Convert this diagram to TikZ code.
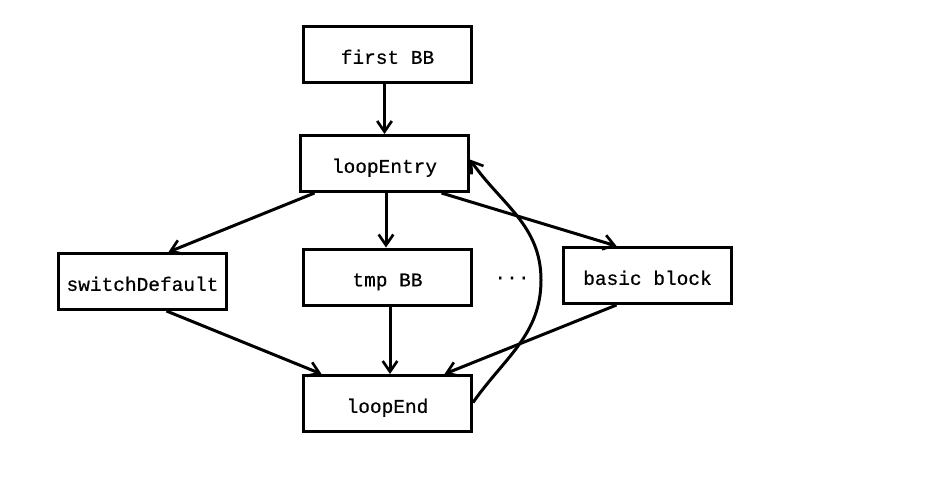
\documentclass[tikz,border=0pt]{standalone}
\usepackage{fontspec}
\newfontfamily\boxfont[FakeBold=0.6]{Liberation Mono}
\usetikzlibrary{arrows.meta,calc}
\tikzset{
  blk/.style={draw=black, line width=2.25pt, rectangle, minimum width=126pt, minimum height=42pt, inner sep=0pt, text height=14pt, text depth=0pt, font=\boxfont\fontsize{14.6pt}{17pt}\selectfont},
  conn/.style={line width=2.25pt, -{Straight Barb[length=8pt,width=11pt,line width=2pt]}},
  lbl/.style={inner sep=0pt, font=\boxfont\fontsize{14.6pt}{17pt}\selectfont}
}
\begin{document}
\begin{tikzpicture}[x=0.75pt,y=-0.75pt]
\useasboundingbox (0,0) rectangle (945,494);
\node[blk] (fb) at (387.5,54.5) {first BB};
\node[blk] (le) at (384.5,163.5) {loopEntry};
\node[blk] (sd) at (142.5,281.5) {switchDefault};
\node[blk] (tmp) at (387.5,277) {tmp BB};
\node[blk] (bb) at (647.5,275.5) {basic block};
\node[blk] (lend) at (387.5,403.5) {loopEnd\hspace{13.5pt}};
\node[lbl] (dots) at (512,280) {···};
\coordinate (bend) at (541,280);
\draw[conn] (fb.south -| le.north) -- (le.north);
\draw[conn] ($(le.south west)+(15.5,0)$) -- ($(sd.north west)+(111.5,0)$);
\draw[conn] ($(le.south)+(1.5,0)$) -- ($(tmp.north)+(-1.5,0)$);
\draw[conn] ($(le.south west)+(142.5,0)$) -- ($(bb.north west)+(54.5,0)$);
\draw[conn] ($(sd.south west)+(109.5,0)$) -- ($(lend.north west)+(19.5,0)$);
\draw[conn] ($(tmp.south)+(2.5,0)$) -- ($(lend.north)+(2.5,0)$);
\draw[conn] ($(bb.south west)+(54.5,0)$) -- ($(lend.north west)+(142.5,0)$);
\draw[conn] ($(lend.east)+(0,-1)$) to[out=55,in=-90] (bend) to[out=90,in=-55] ($(le.east)+(0,-4)$);
\end{tikzpicture}
\end{document}
